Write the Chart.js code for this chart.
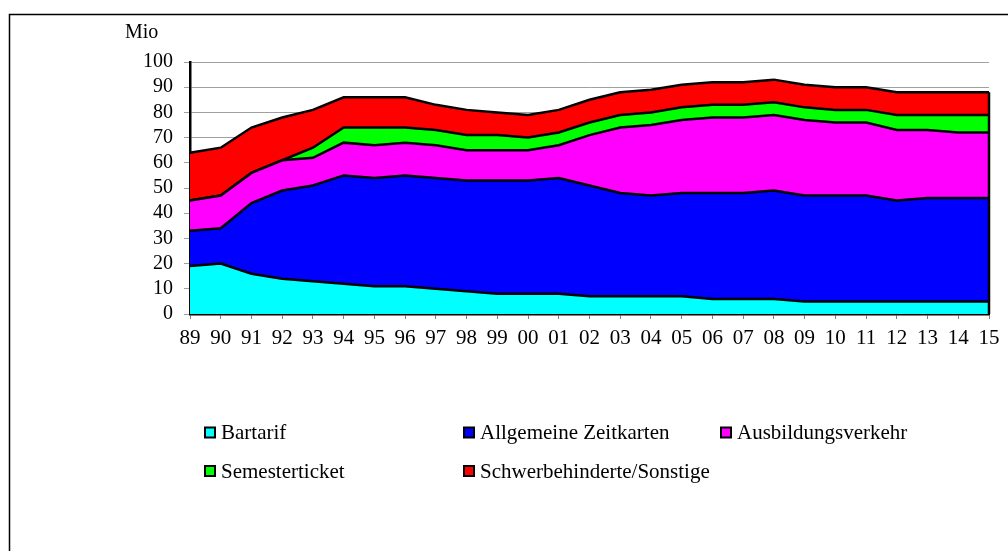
<!DOCTYPE html>
<html>
<head>
<meta charset="utf-8">
<script src="https://cdn.jsdelivr.net/npm/chart.js@4.4.1/dist/chart.umd.min.js"></script>
<style>
    html, body { margin: 0; padding: 0; background: #fff; }
    #wrap { position: relative; width: 1008px; height: 551px; }
</style>
</head>
<body>
<div id="wrap"><canvas id="area_chart" width="1008" height="551"></canvas></div>
<script>
var years = ["89", "90", "91", "92", "93", "94", "95", "96", "97", "98", "99", "00", "01", "02",
    "03", "04", "05", "06", "07", "08", "09", "10", "11", "12", "13", "14", "15"];

var bartarif = [19, 20, 16, 14, 13, 12, 11, 11, 10, 9, 8, 8, 8, 7, 7, 7, 7, 6, 6, 6, 5, 5, 5, 5, 5, 5, 5];
var zeitkarten = [14, 14, 28, 35, 38, 43, 43, 44, 44, 44, 45, 45, 46, 44, 41, 40, 41, 42, 42, 43, 42, 42, 42, 40, 41, 41, 41];
var ausbildung = [12, 13, 12, 12, 11, 13, 13, 13, 13, 12, 12, 12, 13, 20, 26, 28, 29, 30, 30, 30, 30, 29, 29, 28, 27, 26, 26];
var semester = [0, 0, 0, 0, 4, 6, 7, 6, 6, 6, 6, 5, 5, 5, 5, 5, 5, 5, 5, 5, 5, 5, 5, 6, 6, 7, 7];
var sonstige = [19, 19, 18, 17, 15, 12, 12, 12, 10, 10, 9, 9, 9, 9, 9, 9, 9, 9, 9, 9, 9, 9, 9, 9, 9, 9, 9];

var seriesNames = ["Bartarif", "Allgemeine Zeitkarten", "Ausbildungsverkehr", "Semesterticket", "Schwerbehinderte/Sonstige"];
var seriesColors = ['rgb(0, 255, 255)', 'rgb(0, 0, 255)', 'rgb(255, 0, 255)', 'rgb(0, 255, 0)', 'rgb(255, 0, 0)'];

var yTicks = [0, 10, 20, 30, 40, 50, 60, 70, 80, 90, 100];

var serif = "'Liberation Serif', 'Times New Roman', serif";

function makeDataset(i, values) {
    return {
        label: seriesNames[i],
        data: values,
        backgroundColor: seriesColors[i],
        borderColor: '#000',
        borderWidth: 2.5,
        fill: i === 0 ? 'origin' : '-1',
        tension: 0,
        pointRadius: 0,
        pointHoverRadius: 0
    };
}

// frame, "Mio" label, right edge of the stack and the legend
var extras = {
    id: 'extras',
    beforeDraw: function (chart) {
        var ctx = chart.ctx;
        ctx.save();
        ctx.strokeStyle = '#000';
        ctx.lineWidth = 1.5;
        ctx.strokeRect(9.5, 14.5, 1100, 600);
        ctx.fillStyle = '#000';
        ctx.font = '20px ' + serif;
        ctx.textAlign = 'left';
        ctx.textBaseline = 'middle';
        ctx.fillText('Mio', 125, 33);
        ctx.restore();
    },
    afterDatasetsDraw: function (chart) {
        var ctx = chart.ctx, x = chart.scales.x, y = chart.scales.y;
        var last = years.length - 1;
        var total = 0;
        chart.data.datasets.forEach(function (ds) { total += ds.data[last]; });
        ctx.save();
        ctx.strokeStyle = '#000';
        ctx.lineWidth = 2.5;
        ctx.beginPath();
        ctx.moveTo(x.getPixelForValue(last), y.getPixelForValue(0));
        ctx.lineTo(x.getPixelForValue(last), y.getPixelForValue(total));
        ctx.stroke();
        ctx.restore();
    },
    afterDraw: function (chart) {
        var ctx = chart.ctx;
        var cols = [205, 464, 721];
        var rows = [432.5, 471];
        ctx.save();
        ctx.font = '21px ' + serif;
        ctx.textBaseline = 'middle';
        ctx.textAlign = 'left';
        seriesNames.forEach(function (name, i) {
            var bx = cols[i % 3], by = rows[Math.floor(i / 3)];
            ctx.fillStyle = seriesColors[i];
            ctx.fillRect(bx, by - 5, 10, 10);
            ctx.strokeStyle = '#000';
            ctx.lineWidth = 2;
            ctx.strokeRect(bx, by - 5, 10, 10);
            ctx.fillStyle = '#000';
            ctx.fillText(name, bx + 16, by + 1);
        });
        ctx.restore();
    }
};

new Chart(document.getElementById("area_chart").getContext("2d"), {
    type: 'line',
    data: {
        labels: years,
        datasets: [
            makeDataset(0, bartarif),
            makeDataset(1, zeitkarten),
            makeDataset(2, ausbildung),
            makeDataset(3, semester),
            makeDataset(4, sonstige)
        ]
    },
    plugins: [extras],
    options: {
        responsive: false,
        animation: false,
        events: [],
        layout: { padding: { left: 0, top: 62, right: 19, bottom: 0 } },
        plugins: {
            legend: { display: false },
            tooltip: { enabled: false },
            filler: { propagate: false }
        },
        scales: {
            x: {
                offset: false,
                grid: {
                    display: true,
                    drawOnChartArea: false,
                    drawTicks: true,
                    tickLength: 5,
                    color: '#808080'
                },
                border: { display: true, color: '#000', width: 2.5 },
                ticks: {
                    color: '#000',
                    font: { family: serif, size: 21 },
                    padding: 7,
                    maxRotation: 0,
                    autoSkip: false
                },
                afterFit: function (scale) { scale.height = 237; }
            },
            y: {
                stacked: true,
                min: 0,
                max: 100,
                afterBuildTicks: function (scale) {
                    scale.ticks = yTicks.map(function (v) { return { value: v }; });
                },
                grid: {
                    color: '#a0a0a0',
                    lineWidth: 1,
                    drawTicks: true,
                    tickLength: 6
                },
                border: { display: true, color: '#000', width: 2.5 },
                ticks: {
                    color: '#000',
                    font: { family: serif, size: 20 },
                    padding: 11,
                    autoSkip: false
                },
                afterFit: function (scale) { scale.width = 190; }
            }
        }
    }
});
</script>
</body>
</html>
